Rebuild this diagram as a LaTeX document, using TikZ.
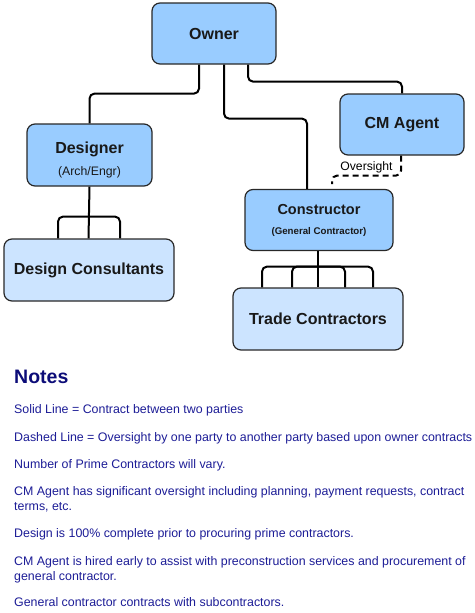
\documentclass[tikz,border=0pt]{standalone}
\usepackage{fontspec}
\setmainfont{Liberation Sans}
\usetikzlibrary{positioning}
\definecolor{partyblue}{RGB}{153,204,255}
\definecolor{subblue}{RGB}{204,228,255}
\definecolor{notecol}{RGB}{28,28,150}
\definecolor{headcol}{RGB}{12,12,120}
\definecolor{edgecol}{RGB}{40,40,40}
\begin{document}
\begin{tikzpicture}[x=1pt, y=-1pt, font=\fontsize{16}{19}\selectfont\bfseries,
    party/.style = {draw=edgecol, line width=1.2pt, fill=partyblue, rounded corners=8pt,
      minimum width=124pt, minimum height=61pt, align=center, inner sep=0pt, text=black!90},
    sub/.style = {party, fill=subblue, minimum width=170pt, minimum height=62pt},
    conn/.style = {line width=2pt, rounded corners=5pt},
    note/.style = {anchor=base west, text=notecol, font=\fontsize{12.4}{15}\selectfont,
      align=left, inner sep=0pt}]
    \useasboundingbox (0,0) rectangle (474,613);
    % parties
    \node[party] (owner) at (214,33.5) {Owner};
    \node[party] (cm) at (402,124.5) {CM Agent};
    \node[party, minimum width=125pt, minimum height=62pt] (designer) at (89.5,155)
        {\rule{0pt}{5pt}\\[-2pt]Designer\\[3pt]{\fontsize{12.3}{14}\selectfont\mdseries (Arch/Engr)}};
    \node[party, minimum width=148pt] (constructor) at (319,220)
        {{\fontsize{14.5}{17}\selectfont Constructor}\\[1pt]{\fontsize{9.7}{12}\selectfont (General Contractor)}};
    \node[sub] (consultants) at (89,270) {Design Consultants};
    \node[sub] (trades) at (318,319) {Trade Contractors};
    % contracts
    \draw[conn] ([xshift=-15pt]owner.south) -- ++(0,29) -| (designer.north);
    \draw[conn] ([xshift=10pt]owner.south) -- ++(0,54) -| ([xshift=-12pt]constructor.north);
    \draw[conn] ([xshift=34pt]owner.south) -- ++(0,17) -| (cm.north);
    \draw[conn] (designer.south) -- ([xshift=-0.5pt]consultants.north);
    \foreach \dx in {-31,31}
        \draw[conn] ([yshift=-30pt]designer.south) -| ([xshift=\dx pt]consultants.north);
    \draw[conn] ([xshift=-1pt]constructor.south) -- (trades.north);
    \foreach \dx in {-56,-26,27,55}
        \draw[conn] ([xshift=-1pt,yshift=-15.5pt]constructor.south) -| ([xshift=\dx pt]trades.north);
    % oversight
    \coordinate (ovend) at (332,184);
    \draw[conn, dash pattern=on 6pt off 4pt] ([xshift=-1pt]cm.south) -- ++(0,20) -| (ovend)
        node[pos=0.25, above=-2pt, font=\fontsize{12.2}{14}\selectfont\mdseries] (ovlabel) {Oversight};
    % notes
    \node[anchor=base west, text=headcol, inner sep=0pt, font=\fontsize{19.5}{23}\selectfont\bfseries] (notes) at (14,383.7) {Notes};
    \node[note] (n1) at (14,413.5) {Solid Line = Contract between two parties};
    \node[note] (n2) at (14,441.5) {Dashed Line = Oversight by one party to another party based upon owner contracts};
    \node[note] (n3) at (14,468.5) {Number of Prime Contractors will vary.};
    \node[note] (n4) at (14,510.5) {CM Agent has significant oversight including planning, payment requests, contract\\terms, etc.};
    \node[note] (n5) at (14,537.5) {Design is 100\% complete prior to procuring prime contractors.};
    \node[note] (n6) at (14,580.5) {CM Agent is hired early to assist with preconstruction services and procurement of\\general contractor.};
    \node[note] (n7) at (14,606.5) {General contractor contracts with subcontractors.};
\end{tikzpicture}
\end{document}
